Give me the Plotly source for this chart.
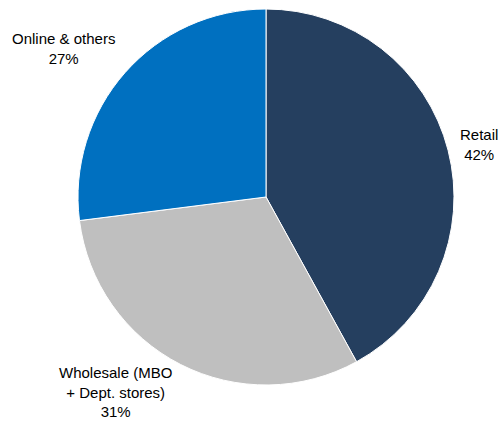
import plotly.graph_objects as go

# Revenue split by channel
channels = ["Retail", "Wholesale (MBO<br>+ Dept. stores)", "Online & others"]
shares = [42, 31, 27]
colors = ["#253F5F", "#BFBFBF", "#0070C0"]

# Label anchor positions (paper coordinates) for each channel
label_x = [0.958, 0.231, 0.126]
label_y = [0.656, 0.070, 0.885]

W, H = 500, 421
cx, cy, r = 266, 197, 188

fig = go.Figure(go.Pie(
    labels=channels,
    values=shares,
    marker=dict(colors=colors, line=dict(color="white", width=1)),
    sort=False,
    direction="clockwise",
    rotation=0,
    textinfo="none",
    hoverinfo="label+percent",
    domain=dict(x=[(cx - r) / W, (cx + r) / W],
                y=[(H - cy - r) / H, (H - cy + r) / H]),
))

for name, v, x, y in zip(channels, shares, label_x, label_y):
    fig.add_annotation(
        x=x, y=y, xref="paper", yref="paper",
        text=f"{name}<br>{v}%", showarrow=False,
        font=dict(family="Liberation Sans, Arial, sans-serif", size=15, color="#000000"),
        align="center", xanchor="center", yanchor="middle",
    )

fig.update_layout(
    width=W, height=H,
    margin=dict(l=0, r=0, t=0, b=0),
    showlegend=False,
    paper_bgcolor="white",
    plot_bgcolor="white",
)

fig.write_html("out.html")
